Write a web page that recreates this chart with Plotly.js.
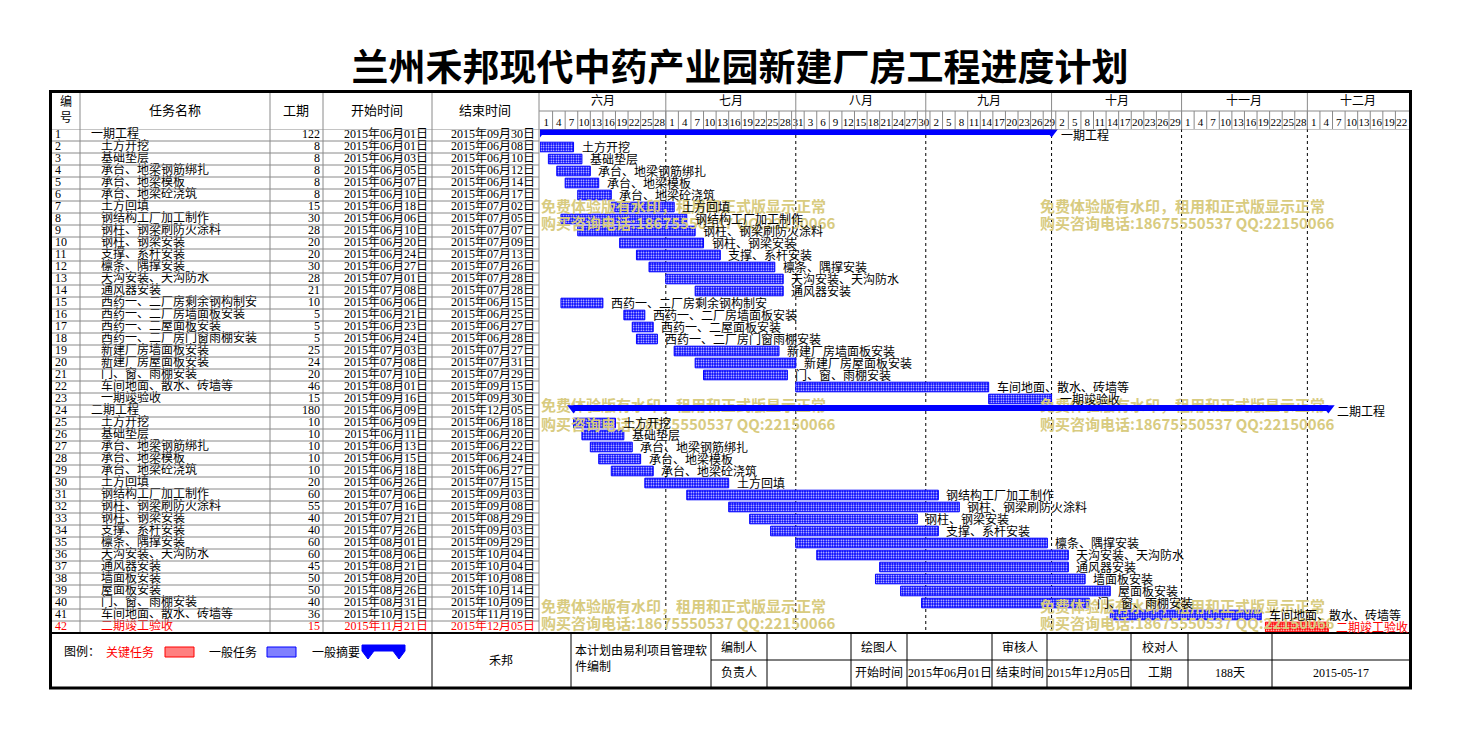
<!DOCTYPE html>
<html><head><meta charset="utf-8">
<script src="https://cdn.plot.ly/plotly-3.0.1.min.js"></script>
<style>html,body{margin:0;padding:0;background:#fff}#chart{width:1460px;height:736px}</style>
</head><body><div id="chart"></div>
<script>
// ---------------- DATA ----------------
const chartTitle = '兰州禾邦现代中药产业园新建厂房工程进度计划';
const taskNames = ['一期工程','土方开挖','基础垫层','承台、地梁钢筋绑扎','承台、地梁模板','承台、地梁砼浇筑','土方回填','钢结构工厂加工制作','钢柱、钢梁刷防火涂料','钢柱、钢梁安装','支撑、系杆安装','檩条、隅撑安装','天沟安装、天沟防水','通风器安装','西药一、二厂房剩余钢构制安','西药一、二厂房墙面板安装','西药一、二屋面板安装','西药一、二厂房门窗雨棚安装','新建厂房墙面板安装','新建厂房屋面板安装','门、窗、雨棚安装','车间地面、散水、砖墙等','一期竣验收',
 '二期工程','土方开挖','基础垫层','承台、地梁钢筋绑扎','承台、地梁模板','承台、地梁砼浇筑','土方回填','钢结构工厂加工制作','钢柱、钢梁刷防火涂料','钢柱、钢梁安装','支撑、系杆安装','檩条、隅撑安装','天沟安装、天沟防水','通风器安装','墙面板安装','屋面板安装','门、窗、雨棚安装','车间地面、散水、砖墙等','二期竣工验收'];
const durations = [122,8,8,8,8,8,15,30,28,20,20,30,28,21,10,5,5,5,25,24,20,46,15,
 180,10,10,10,10,10,20,60,55,40,40,60,60,45,50,50,40,36,15];
const startDates = ['2015-06-01','2015-06-01','2015-06-03','2015-06-05','2015-06-07','2015-06-10','2015-06-18','2015-06-06','2015-06-10','2015-06-20','2015-06-24','2015-06-27','2015-07-01','2015-07-08','2015-06-06','2015-06-21','2015-06-23','2015-06-24','2015-07-03','2015-07-08','2015-07-10','2015-08-01','2015-09-16',
 '2015-06-09','2015-06-09','2015-06-11','2015-06-13','2015-06-15','2015-06-18','2015-06-26','2015-07-06','2015-07-16','2015-07-21','2015-07-26','2015-08-01','2015-08-06','2015-08-21','2015-08-20','2015-08-26','2015-08-31','2015-10-15','2015-11-21'];
const endDates = ['2015-09-30','2015-06-08','2015-06-10','2015-06-12','2015-06-14','2015-06-17','2015-07-02','2015-07-05','2015-07-07','2015-07-09','2015-07-13','2015-07-26','2015-07-28','2015-07-28','2015-06-15','2015-06-25','2015-06-27','2015-06-28','2015-07-27','2015-07-31','2015-07-29','2015-09-15','2015-09-30',
 '2015-12-05','2015-06-18','2015-06-20','2015-06-22','2015-06-24','2015-06-27','2015-07-15','2015-09-03','2015-09-08','2015-08-29','2015-09-03','2015-09-29','2015-10-04','2015-10-04','2015-10-08','2015-10-14','2015-10-09','2015-11-19','2015-12-05'];
const summaryRows = [1, 24];
const criticalRows = [42];
const monthNames = ['六月','七月','八月','九月','十月','十一月','十二月'];
const monthStarts = ['2015-06-01','2015-07-01','2015-08-01','2015-09-01','2015-10-01','2015-11-01','2015-12-01'];
const axisStartDate = '2015-06-01';
const axisEndDate = '2015-12-25';
const dayTickLabels = ['1','4','7','10','13','16','19','22','25','28',
 '1','4','7','10','13','16','19','22','25','28','31',
 '3','6','9','12','15','18','21','24','27','30',
 '2','5','8','11','14','17','20','23','26','29',
 '2','5','8','11','14','17','20','23','26','29',
 '1','4','7','10','13','16','19','22','25','28',
 '1','4','7','10','13','16','19','22'];
const tableHeaders = ['编<br>号','任务名称','工期','开始时间','结束时间'];
const legendLabels = ['图例：','关键任务','一般任务','一般摘要'];
const footerCompany = '禾邦';
const footerNote = '本计划由易利项目管理软<br>件编制';
const footerRow1 = ['编制人','','绘图人','','审核人','','校对人','',''];
const footerRow2 = ['负责人','','开始时间','2015年06月01日','结束时间','2015年12月05日','工期','188天','2015-05-17'];
const watermarkLines = ['免费体验版有水印，租用和正式版显示正常','购买咨询电话:18675550537 QQ:22150066'];

// ---------------- HELPERS ----------------
const W = 1460, H = 736;
const px = x => x / W, py = y => 1 - y / H;
const ORIGIN = Date.UTC(2015, 5, 1);
function dayOf(s){ const p = s.split('-').map(Number); return (Date.UTC(p[0], p[1]-1, p[2]) - ORIGIN) / 86400000; }
function cnDate(s){ const p = s.split('-'); return p[0]+'年'+p[1]+'月'+p[2]+'日'; }
const FONT = 'Liberation Serif, Noto Sans CJK SC';
const GRAY = '#8a8a8a';
const nRows = taskNames.length;
const rows = taskNames.map((_, i) => i + 1);
const startD = startDates.map(dayOf);
const endD = endDates.map(s => dayOf(s) + 1);
const axisEnd = dayOf(axisEndDate);
const pxPerDay = (1408 - 540) / (axisEnd - dayOf(axisStartDate));

// ---------------- TRACES ----------------
const traces = [];
// watermark (behind the bars)
const wmX = [], wmY = [], wmT = [];
[[7.08, 8.5], [23.67, 25.25], [40.42, 41.83]].forEach(pair => {
  [(541 - 540) / pxPerDay, (1040 - 540) / pxPerDay].forEach(x => {
    wmX.push(x, x); wmY.push(pair[0], pair[1]); wmT.push(watermarkLines[0], watermarkLines[1]);
  });
});
traces.push({type:'scatter', mode:'text', x:wmX, y:wmY, text:wmT, textposition:'middle right', cliponaxis:false,
  textfont:{family:'Noto Sans CJK SC', size:15, color:'#d8cb80', weight:'bold'}, hoverinfo:'skip', showlegend:false, xaxis:'x', yaxis:'y'});

function barTrace(filter, col){
  const idx = rows.map((r,i)=>i).filter(filter);
  return {type:'bar', orientation:'h', y: idx.map(i=>rows[i]), base: idx.map(i=>startD[i]), x: idx.map(i=>endD[i]-startD[i]),
    width:0.8, marker:{color:col, line:{color:col, width:1}, pattern:{shape:'.', fgcolor:'#ffffff', bgcolor:col, size:2.5, solidity:0.3, fillmode:'replace'}},
    hoverinfo:'skip', showlegend:false, xaxis:'x', yaxis:'y'};
}
traces.push(barTrace(i => !summaryRows.includes(rows[i]) && !criticalRows.includes(rows[i]), '#0000ff'));
traces.push(barTrace(i => criticalRows.includes(rows[i]), '#ff0000'));

// summary bars
const sx = [], sy = [];
summaryRows.forEach(r => { const i = r - 1; sx.push(startD[i], endD[i], null); sy.push(r - 0.25, r - 0.25, null); });
traces.push({type:'scatter', mode:'lines+markers', x:sx, y:sy, line:{color:'#0000ff', width:6},
  marker:{symbol:'triangle-down', size:11, color:'#0000ff'}, hoverinfo:'skip', showlegend:false, xaxis:'x', yaxis:'y'});

// table text columns
const rowColors = rows.map(r => criticalRows.includes(r) ? '#ff0000' : '#000000');
function col(x, texts, pos){
  return {type:'scatter', mode:'text', x: texts.map(()=>x), y: rows, text: texts, textposition: pos, cliponaxis:false,
    textfont:{family:FONT, size:12, color:rowColors}, hoverinfo:'skip', showlegend:false, xaxis:'x2', yaxis:'y'};
}
traces.push(col(55, rows.map(String), 'middle right'));
traces.push({type:'scatter', mode:'text', x: rows.map(r => summaryRows.includes(r) ? 91 : 101), y: rows, text: taskNames,
  textposition:'middle right', cliponaxis:false, textfont:{family:FONT, size:12, color:rowColors}, hoverinfo:'skip', showlegend:false, xaxis:'x2', yaxis:'y'});
traces.push(col(320, durations.map(String), 'middle left'));
traces.push(col(428, startDates.map(cnDate), 'middle left'));
traces.push(col(535, endDates.map(cnDate), 'middle left'));

// ---------------- SHAPES ----------------
const shapes = [];
function pline(x0, y0, x1, y1, color, width, dash, layer){
  shapes.push({type:'line', xref:'paper', yref:'paper', x0:px(x0), y0:py(y0), x1:px(x1), y1:py(y1),
    line:{color, width, dash: dash || 'solid'}, layer: layer || 'above'});
}
// table row lines
for (let k = 0; k < nRows; k++) {
  shapes.push({type:'line', xref:'paper', yref:'y', x0:px(52), x1:px(k === 0 ? 1409 : 539), y0:k+0.5, y1:k+0.5, line:{color:GRAY, width:1}});
}
// table column lines
[80, 270, 323, 432, 539].forEach(x => pline(x, 92, x, 633, GRAY, 1));
// gantt header split
pline(539, 111, 1409, 111, GRAY, 1);
// month separators in header and dotted lines in body
monthStarts.slice(1).forEach(m => {
  const d = dayOf(m);
  shapes.push({type:'line', xref:'x', yref:'paper', x0:d, x1:d, y0:py(92), y1:py(129), line:{color:GRAY, width:1}});
  shapes.push({type:'line', xref:'x', yref:'y', x0:d, x1:d, y0:0.5, y1:nRows+0.5, line:{color:'#000000', width:1, dash:'dot'}, layer:'below'});
});
// day cell separators (3-day cells)
dayTickLabels.forEach((_, i) => { if (i > 0) shapes.push({type:'line', xref:'x', yref:'paper', x0:i*3, x1:i*3, y0:py(111), y1:py(129), line:{color:GRAY, width:1}}); });
// footer
pline(52, 633, 1409, 633, '#000000', 2);
[432, 571, 711, 767, 851, 907, 992, 1047, 1131, 1188, 1272].forEach(x => pline(x, 633, x, 687, '#000000', 1));
pline(711, 660, 1409, 660, '#000000', 1);
// frame
shapes.push({type:'rect', xref:'paper', yref:'paper', x0:px(50.5), y0:py(91.5), x1:px(1410.5), y1:py(688), line:{color:'#000000', width:3}});
// legend boxes
shapes.push({type:'rect', xref:'paper', yref:'paper', x0:px(165), x1:px(194), y0:py(647), y1:py(657), fillcolor:'#ff8080', line:{color:'#ff0000', width:1}});
shapes.push({type:'rect', xref:'paper', yref:'paper', x0:px(267), x1:px(296), y0:py(647), y1:py(657), fillcolor:'#8080ff', line:{color:'#0000ff', width:1}});
function pathOf(pts){ return 'M' + pts.map(p => px(p[0]) + ',' + py(p[1])).join(' L') + ' Z'; }
shapes.push({type:'path', xref:'paper', yref:'paper', path: pathOf([[362,645],[405,645],[405,651],[399,659],[393,651],[374,651],[368,659],[362,651]]), fillcolor:'#0000ff', line:{color:'#0000ff', width:1}});

// ---------------- ANNOTATIONS ----------------
const annotations = [];
function ann(text, x, y, opts){
  annotations.push(Object.assign({text, x:px(x), y:py(y), xref:'paper', yref:'paper', showarrow:false, xanchor:'center', yanchor:'middle',
    font:{family:FONT, size:12, color:'#000000'}}, opts || {}));
}
// table headers
ann(tableHeaders[0], 66, 110, {font:{family:FONT, size:12, color:'#000'}});
ann(tableHeaders[1], 175, 111, {font:{family:FONT, size:13, color:'#000'}});
ann(tableHeaders[2], 296, 111, {font:{family:FONT, size:13, color:'#000'}});
ann(tableHeaders[3], 377, 111, {font:{family:FONT, size:13, color:'#000'}});
ann(tableHeaders[4], 485, 111, {font:{family:FONT, size:13, color:'#000'}});
// month labels
monthNames.forEach((m, i) => {
  const a = dayOf(monthStarts[i]);
  const b = i + 1 < monthStarts.length ? dayOf(monthStarts[i+1]) : axisEnd;
  annotations.push({text:m, x:(a+b)/2, y:py(101), xref:'x', yref:'paper', xanchor:'center', yanchor:'middle', showarrow:false, font:{family:FONT, size:12, color:'#000'}});
});
// bar labels
rows.forEach((r, i) => {
  annotations.push({text:taskNames[i], x:endD[i], y:r, xref:'x', yref:'y', xanchor:'left', yanchor:'middle', xshift: summaryRows.includes(r) ? 7 : 6,
    showarrow:false, font:{family:FONT, size:12, color:rowColors[i]}});
});
// footer legend
ann(legendLabels[0], 62, 652, {xanchor:'left'});
ann(legendLabels[1], 104, 652, {xanchor:'left', font:{family:FONT, size:12, color:'#ff0000'}});
ann(legendLabels[2], 207, 652, {xanchor:'left'});
ann(legendLabels[3], 310, 652, {xanchor:'left'});
ann(footerCompany, 501, 661);
ann(footerNote, 573, 658, {xanchor:'left', align:'left'});
const fCells = [[711,767],[767,851],[851,907],[907,992],[992,1047],[1047,1131],[1131,1188],[1188,1272],[1272,1409]];
fCells.forEach((c, i) => {
  if (footerRow1[i]) ann(footerRow1[i], (c[0]+c[1])/2, 647);
  if (footerRow2[i]) ann(footerRow2[i], (c[0]+c[1])/2, 673);
});

// ---------------- LAYOUT ----------------
const tickvals = dayTickLabels.map((_, i) => i*3 + 1.5);
const layout = {
  width: W, height: H, margin:{l:0, r:0, t:0, b:0, pad:0},
  paper_bgcolor:'#ffffff', plot_bgcolor:'#ffffff', showlegend:false, barmode:'overlay',
  font:{family:FONT, size:12, color:'#000'},
  title:{text:'<b>' + chartTitle + '</b>', x:740/W, xanchor:'center', y:1-68/H, yanchor:'middle', yref:'container',
    font:{family:'Noto Sans CJK SC', size:37, color:'#000'}},
  xaxis:{domain:[px(540), px(1408)], range:[dayOf(axisStartDate), axisEnd], side:'top', tickmode:'array', tickvals, ticktext:dayTickLabels,
    ticks:'', showgrid:false, zeroline:false, showline:false, tickfont:{family:FONT, size:11, color:'#000'}, tickangle:0, fixedrange:true, anchor:'y'},
  xaxis2:{domain:[px(52), px(539)], range:[52, 539], visible:false, fixedrange:true, anchor:'y'},
  yaxis:{domain:[py(633), py(129)], range:[nRows + 0.5, 0.5], visible:false, fixedrange:true},
  shapes, annotations
};
Plotly.newPlot('chart', traces, layout, {staticPlot:true});
</script>
</body></html>
